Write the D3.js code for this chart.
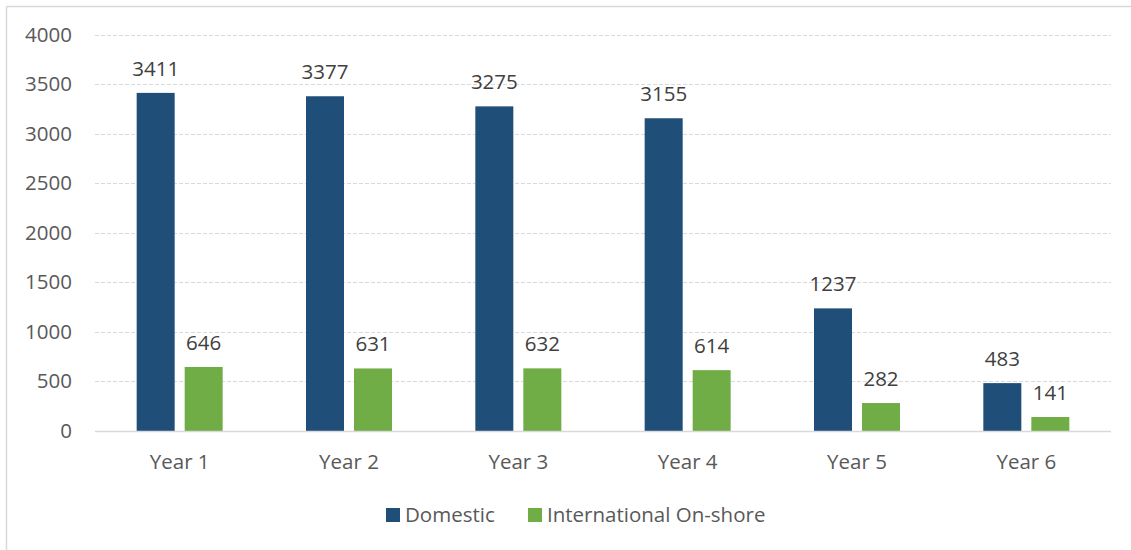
<!DOCTYPE html>
<html>
<head>
<meta charset="utf-8">
<script src="https://cdn.jsdelivr.net/npm/d3@7"></script>
<style>
    body { margin: 0; background: #fff; }
    svg text { font-family: "Open Sans", "Noto Sans", sans-serif; fill: #595959; }
</style>
</head>
<body>
<svg id="chart" width="1131" height="550"></svg>
<script>
const years = ["Year 1", "Year 2", "Year 3", "Year 4", "Year 5", "Year 6"];
const seriesNames = ["Domestic", "International On-shore"];
const domestic = [3411, 3377, 3275, 3155, 1237, 483];
const international = [646, 631, 632, 614, 282, 141];
const yTicks = [0, 500, 1000, 1500, 2000, 2500, 3000, 3500, 4000];
const colors = ["#1F4E79", "#70AD47"];

const svg = d3.select("#chart");
const fontSize = "20.5px";

// chart frame (top and left edges only show in the picture)
svg.append("line").attr("x1", 6.5).attr("x2", 1131).attr("y1", 6.5).attr("y2", 6.5)
    .attr("stroke", "#d9d9d9").attr("stroke-width", 1.5);
svg.append("line").attr("x1", 6.5).attr("x2", 6.5).attr("y1", 6.5).attr("y2", 550)
    .attr("stroke", "#d9d9d9").attr("stroke-width", 1.5);

const plotLeft = 95, plotRight = 1111, plotTop = 34.5, plotBottom = 431;

const x = d3.scaleBand().domain(years).range([plotLeft, plotRight]);
const y = d3.scaleLinear().domain([0, 4000]).range([plotBottom, plotTop]);

// gridlines
svg.append("g")
    .selectAll("line")
    .data(yTicks.filter(d => d > 0))
    .enter()
    .append("line")
    .attr("x1", plotLeft).attr("x2", plotRight)
    .attr("y1", d => Math.round(y(d)) + 0.5)
    .attr("y2", d => Math.round(y(d)) + 0.5)
    .attr("stroke", "#d9d9d9")
    .attr("stroke-dasharray", "4,2");

// y tick labels
svg.append("g")
    .selectAll("text")
    .data(yTicks)
    .enter()
    .append("text")
    .attr("x", 72)
    .attr("y", d => y(d) + 7)
    .attr("text-anchor", "end")
    .style("font-size", fontSize)
    .text(d => d);

// bars
const barW = 38, gap = 10;
const rows = years.map((yr, i) => ({ year: yr, values: [domestic[i], international[i]] }));

const groups = svg.append("g")
    .selectAll("g")
    .data(rows)
    .enter()
    .append("g")
    .attr("transform", d => "translate(" + (x(d.year) + x.bandwidth() / 2) + ",0)");

groups.selectAll("rect")
    .data(d => d.values.map((v, k) => ({ v: v, k: k })))
    .enter()
    .append("rect")
    .attr("x", d => d.k === 0 ? -gap / 2 - barW : gap / 2)
    .attr("width", barW)
    .attr("y", d => y(d.v))
    .attr("height", d => y(0) - y(d.v))
    .attr("fill", d => colors[d.k]);

groups.selectAll("text")
    .data(d => d.values.map((v, k) => ({ v: v, k: k })))
    .enter()
    .append("text")
    .attr("x", d => d.k === 0 ? -gap / 2 - barW / 2 : gap / 2 + barW / 2)
    .attr("y", d => y(d.v) - 17)
    .attr("text-anchor", "middle")
    .style("font-size", fontSize)
    .style("fill", "#404040")
    .text(d => d.v);

// x axis line
svg.append("line")
    .attr("x1", plotLeft).attr("x2", plotRight)
    .attr("y1", plotBottom + 0.5).attr("y2", plotBottom + 0.5)
    .attr("stroke", "#d9d9d9").attr("stroke-width", 1.5);

// category labels
svg.append("g")
    .selectAll("text")
    .data(years)
    .enter()
    .append("text")
    .attr("x", d => x(d) + x.bandwidth() / 2)
    .attr("y", 469)
    .attr("text-anchor", "middle")
    .style("font-size", fontSize)
    .text(d => d);

// legend
const legendX = [386, 528];
const legend = svg.append("g")
    .selectAll("g")
    .data(seriesNames)
    .enter()
    .append("g")
    .attr("transform", (d, i) => "translate(" + legendX[i] + ",508)");

legend.append("rect")
    .attr("width", 14).attr("height", 14)
    .attr("fill", (d, i) => colors[i]);

legend.append("text")
    .attr("x", 19)
    .attr("y", 14)
    .style("font-size", fontSize)
    .text(d => d);
</script>
</body>
</html>
